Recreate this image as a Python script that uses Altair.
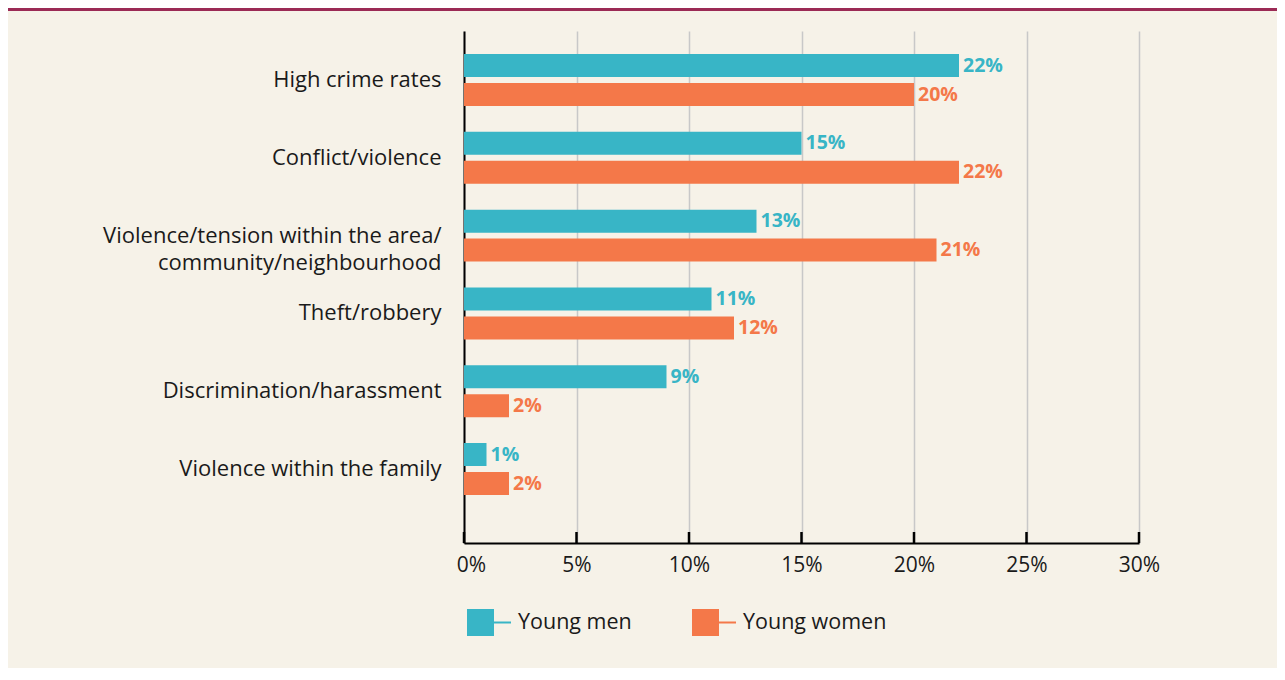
import altair as alt
import pandas as pd

categories = [
    "High crime rates",
    "Conflict/violence",
    "Violence/tension within the area/|community/neighbourhood",
    "Theft/robbery",
    "Discrimination/harassment",
    "Violence within the family",
]
young_men = [22, 15, 13, 11, 9, 1]
young_women = [20, 22, 21, 12, 2, 2]
series = ["Young men", "Young women"]
colors = ["#38B5C6", "#F47849"]
tick_values = [0, 5, 10, 15, 20, 25, 30]

rows = []
for c, m, w in zip(categories, young_men, young_women):
    rows.append({"category": c, "series": series[0], "value": m, "label": f"{m}%"})
    rows.append({"category": c, "series": series[1], "value": w, "label": f"{w}%"})
df = pd.DataFrame(rows)

W, H = 675, 512
PAD_L, PAD_T, PAD_R, PAD_B = 456, 23, 138, 125
FONT = "Open Sans"
TXT = "#1a1a1a"

x_scale = alt.Scale(domain=[0, 30], nice=False, zero=True)
y_enc = alt.Y(
    "category:N",
    sort=categories,
    scale=alt.Scale(paddingInner=0, paddingOuter=0.2905, align=0.224),
    axis=alt.Axis(
        title=None,
        ticks=False,
        domain=True,
        domainColor="black",
        domainWidth=2,
        labelFont=FONT,
        labelFontSize=22,
        labelColor=TXT,
        labelPadding=23,
        labelAlign="right",
        labelBaseline="middle",
        labelLineHeight=27,
        labelLimit=0,
        labelExpr="split(datum.label, '|')",
        grid=False,
    ),
)
yoff = alt.YOffset(
    "series:N",
    sort=series,
    scale=alt.Scale(paddingInner=0.207, paddingOuter=0.445),
)
color_enc = alt.Color(
    "series:N",
    sort=series,
    scale=alt.Scale(domain=series, range=colors),
    legend=alt.Legend(
        title=None,
        orient="none",
        legendX=3,
        legendY=578,
        direction="horizontal",
        columns=2,
        columnPadding=60,
        padding=0,
        symbolType="M-1,-1H1V1H-1Z M1,-0.075H2.26V0.075H1Z",
        symbolSize=729,
        symbolStrokeWidth=0,
        symbolOpacity=1,
        labelOffset=24,
        labelFont=FONT,
        labelFontSize=21.5,
        labelColor=TXT,
        labelLimit=0,
    ),
)

bars = alt.Chart(df).mark_bar(size=23).encode(
    x=alt.X(
        "value:Q",
        scale=x_scale,
        axis=alt.Axis(
            title=None,
            values=tick_values,
            labelExpr="datum.value + '%'",
            labelFlush=False,
            labelOffset={"condition": {"test": "datum.value == 0", "value": 7}, "value": 0},
            ticks=False,
            tickSize=0,
            domain=True,
            domainColor="black",
            domainWidth=2,
            grid=True,
            gridColor="#C8C8C8",
            gridWidth=1.5,
            labelFont=FONT,
            labelFontSize=21,
            labelColor=TXT,
            labelPadding=11,
        ),
    ),
    y=y_enc,
    yOffset=yoff,
    color=color_enc,
)

labels = alt.Chart(df).mark_text(
    align="left", baseline="middle", dx=4, font=FONT, fontSize=19.5, fontWeight="bold"
).encode(
    x=alt.X("value:Q", scale=x_scale),
    y=alt.Y("category:N", sort=categories),
    yOffset=alt.YOffset("series:N", sort=series),
    text="label:N",
    color=alt.Color("series:N", sort=series, legend=None),
)

ticks_df = pd.DataFrame({"t": tick_values})
ticks = alt.Chart(ticks_df).mark_rule(color="black", strokeWidth=2.5).encode(
    x=alt.X("t:Q", scale=x_scale),
    y=alt.value(H - 11),
    y2=alt.value(H),
)

top_line = alt.Chart(alt.Data(values=[{"a": 1}])).mark_rule(
    color="#9B2A55", strokeWidth=3
).encode(
    x=alt.value(-PAD_L),
    x2=alt.value(W + PAD_R),
    y=alt.value(-PAD_T + 1.5),
)

chart = (
    alt.layer(bars, labels, ticks, top_line)
    .properties(
        width=W,
        height=H,
        background="#F6F2E8",
        padding={"left": PAD_L, "top": PAD_T, "right": PAD_R, "bottom": PAD_B},
        autosize=alt.AutoSizeParams(type="none"),
    )
    .configure_view(stroke=None)
)

chart.save("out.html", embed_options={"renderer": "svg", "actions": False})
